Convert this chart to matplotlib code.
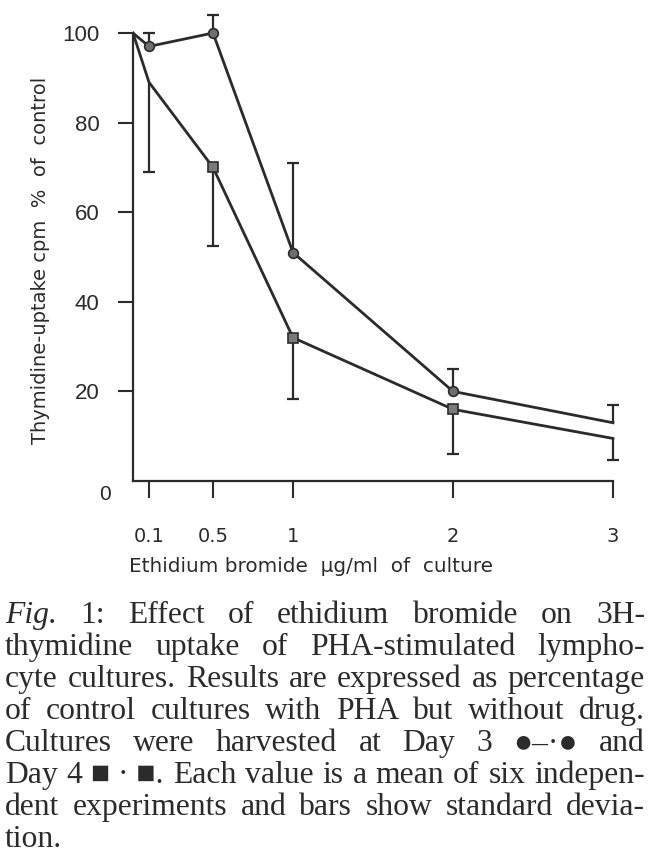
import matplotlib
matplotlib.use('Agg')
import matplotlib.pyplot as plt

# ethidium bromide concentration (ug/ml) and control at 0
conc = [0.1, 0.5, 1, 2, 3]
control = 100

day3_mean = [97, 100, 51, 20, 13]
day3_sd = [3, 4, 20, 5, 4]
day4_mean = [89, 70, 32, 16, 9.5]
day4_sd = [20, 17.5, 13.6, 10, 4.8]

xtick_vals = [0.1, 0.5, 1, 2, 3]
xtick_labels = ['0.1', '0.5', '1', '2', '3']
ytick_vals = [20, 40, 60, 80, 100]

caption = [
    [('Fig.', 'italic'), '1:', 'Effect', 'of', 'ethidium', 'bromide', 'on', '3H-'],
    ['thymidine', 'uptake', 'of', 'PHA-stimulated', 'lympho-'],
    ['cyte', 'cultures.', 'Results', 'are', 'expressed', 'as', 'percentage'],
    ['of', 'control', 'cultures', 'with', 'PHA', 'but', 'without', 'drug.'],
    ['Cultures', 'were', 'harvested', 'at', 'Day', '3', '\u25cf\u2013\u00b7\u25cf', 'and'],
    ['Day', '4', '\u25a0 \u00b7 \u25a0.', 'Each', 'value', 'is', 'a', 'mean', 'of', 'six', 'indepen-'],
    ['dent', 'experiments', 'and', 'bars', 'show', 'standard', 'devia-'],
    ['tion.'],
]

W, H = 650, 859
ink = '#2b2b2b'
fig = plt.figure(figsize=(6.5, 8.59), dpi=100)


def fx(px):
    return px / W


def fy(py):
    return 1 - py / H


x0_px, y0_px = 133, 481
px_x = 160.0   # pixels per ug/ml
px_y = 4.48    # pixels per percent
xmax, ymax = 3.1, 106
ax = fig.add_axes([fx(x0_px), fy(y0_px), xmax * px_x / W, ymax * px_y / H])
ax.set_xlim(0, xmax)
ax.set_ylim(0, ymax)

for s in ['top', 'right']:
    ax.spines[s].set_visible(False)
ax.spines['left'].set_bounds(0, 100)
ax.spines['bottom'].set_bounds(0, 3)
for s in ['left', 'bottom']:
    ax.spines[s].set_linewidth(1.6)
    ax.spines[s].set_color(ink)

xs = [0] + conc
lw = 2.0
ax.plot(xs, [control] + day3_mean, color=ink, lw=lw, zorder=2)
ax.plot(xs, [control] + day4_mean, color=ink, lw=lw, zorder=2)

# standard deviation: up for day 3, down for day 4
d3_top = [m + s for m, s in zip(day3_mean, day3_sd)]
d4_bot = [m - s for m, s in zip(day4_mean, day4_sd)]
ax.vlines(conc, day3_mean, d3_top, color=ink, lw=1.6, zorder=3)
ax.plot(conc, d3_top, ls='none', marker='_', ms=9, mew=1.6, color=ink, zorder=3)
ax.vlines(conc, day4_mean, d4_bot, color=ink, lw=1.6, zorder=3)
ax.plot(conc, d4_bot, ls='none', marker='_', ms=9, mew=1.6, color=ink, zorder=3)

# markers (not all visible in the print); white halo mimics the gaps in the print
ax.plot(conc[:4], day3_mean[:4], ls='none', marker='o', ms=7, mfc='#6e6e6e',
        mec=ink, mew=1.2, zorder=4)
ax.plot(conc[1:4], day4_mean[1:4], ls='none', marker='s', ms=7, mfc='#7a7a7a',
        mec=ink, mew=1.2, zorder=4)

ax.set_xticks(xtick_vals)
ax.set_xticklabels(xtick_labels, fontsize=14, color=ink)
ax.set_yticks(ytick_vals)
ax.set_yticklabels([str(v) for v in ytick_vals], fontsize=16, color=ink,
                   family=['Liberation Sans', 'DejaVu Sans'])
ax.tick_params(axis='x', direction='out', length=12, width=1.5, pad=21, colors=ink)
ax.tick_params(axis='y', direction='out', length=11, width=1.5, pad=13, colors=ink)

fig.text(fx(105), fy(494), '0', fontsize=15, color=ink, ha='center', va='center',
         family=['Liberation Sans', 'DejaVu Sans'])

fig.text(fx(311), fy(567), 'Ethidium bromide  \u00b5g/ml  of  culture', fontsize=14.4,
         color=ink, ha='center', va='center')
fig.text(fx(41), fy(260), 'Thymidine-uptake cpm  %  of  control', fontsize=14,
         color=ink, ha='center', va='center', rotation=90)

# justified caption, size chosen so the tightest line fills the width
renderer = fig.canvas.get_renderer()
left, right = 5, 645
base0, step = 623, 32
serif = ['Liberation Serif', 'DejaVu Sans']
probe = fig.text(0, 0, ' '.join(caption[2]), fontsize=19, family=serif)
cap_size = 19 * (right - left) / probe.get_window_extent(renderer).width * 0.985
probe.remove()

for i, words in enumerate(caption):
    items = []
    for w in words:
        style = 'normal'
        if isinstance(w, tuple):
            w, style = w
        t = fig.text(0, 0, w, fontsize=cap_size, family=serif, style=style,
                     color=ink, va='baseline', ha='left')
        items.append((t, t.get_window_extent(renderer).width))
    total = sum(wd for _, wd in items)
    if i == len(caption) - 1 or len(items) == 1:
        gap = 7
    else:
        gap = (right - left - total) / (len(items) - 1)
    xpos = left
    for t, wd in items:
        t.set_position((fx(xpos), fy(base0 + step * i)))
        xpos += wd + gap

fig.savefig('out.png', dpi=100, facecolor='white')
